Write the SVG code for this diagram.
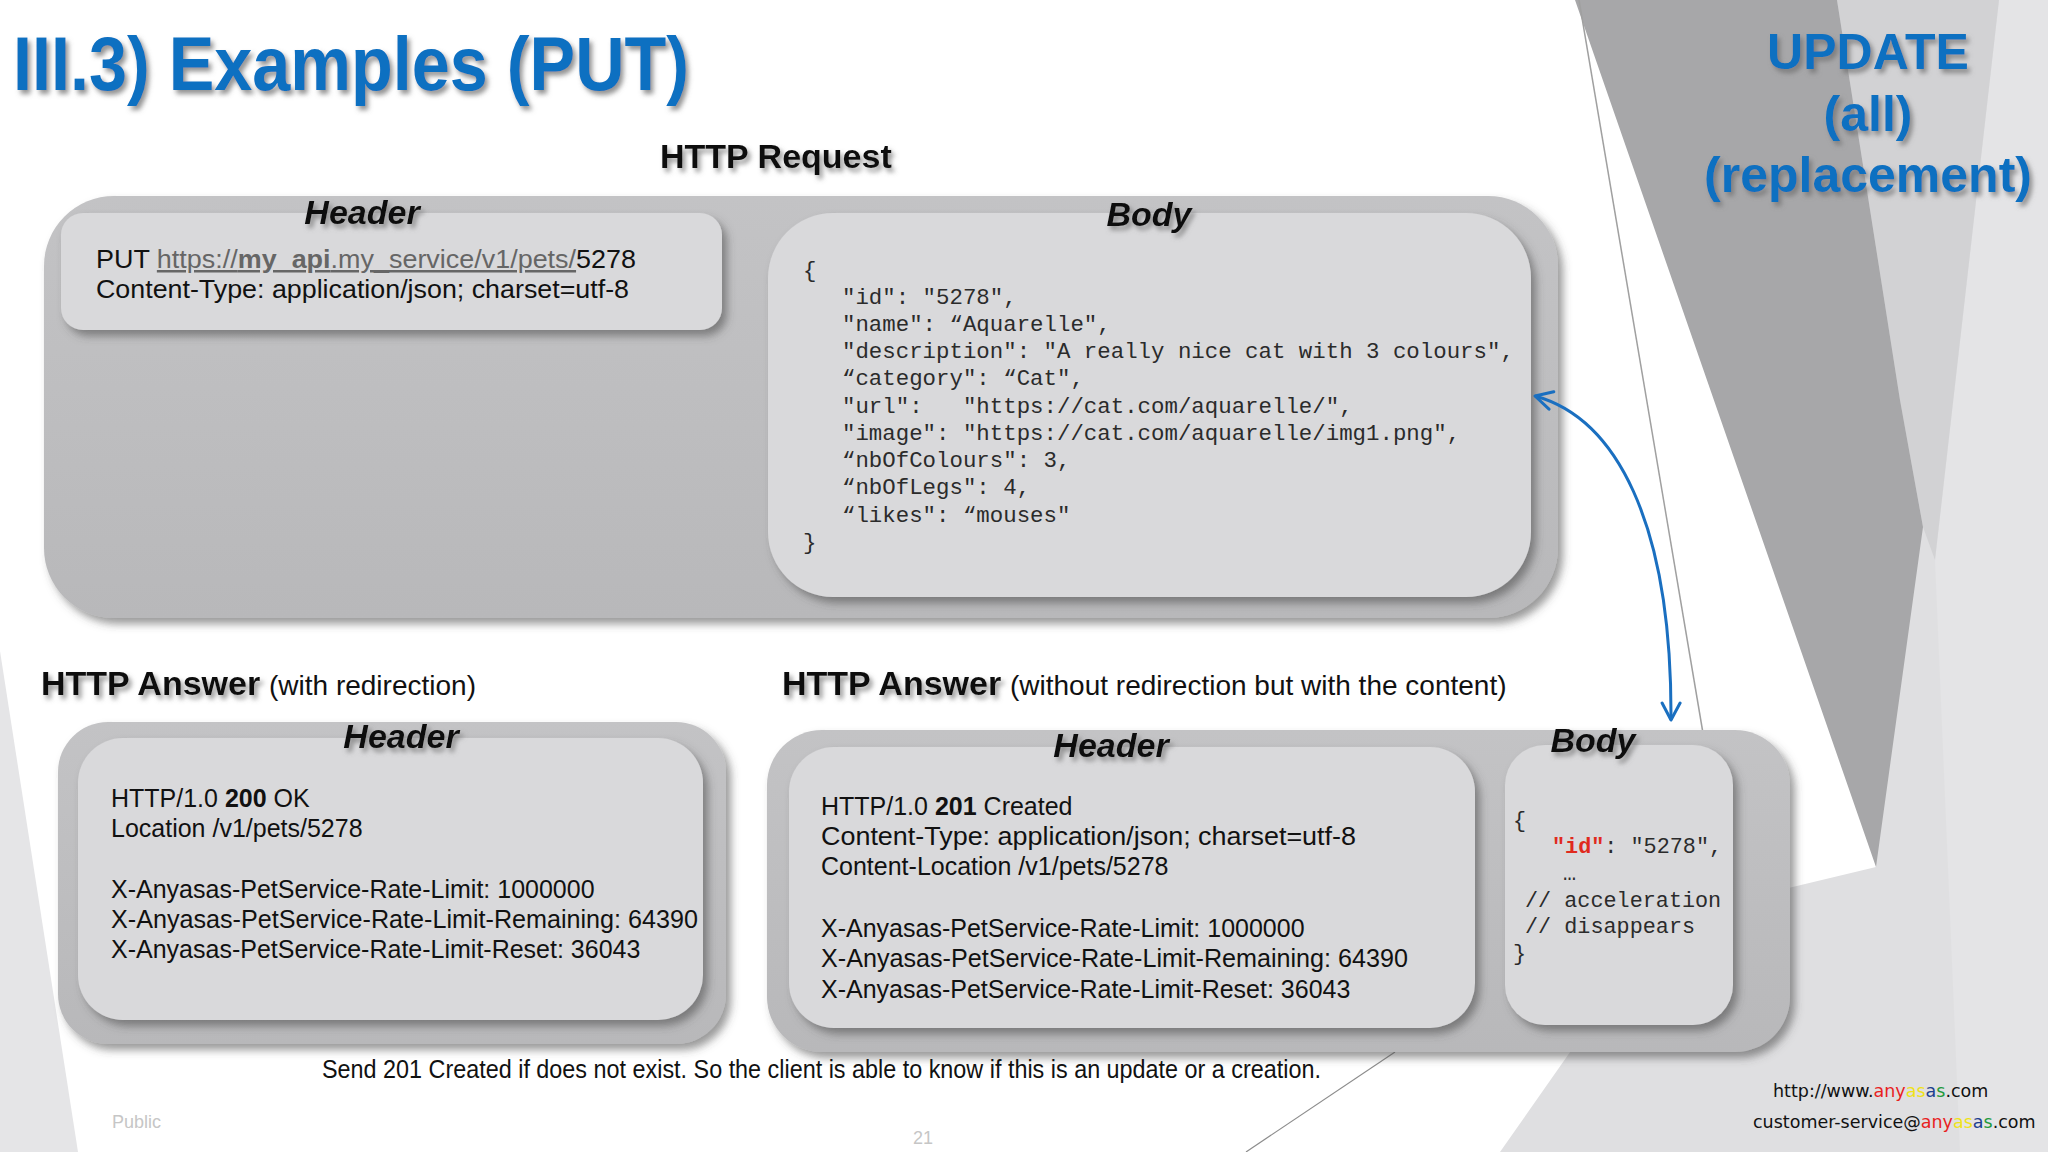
<svg xmlns="http://www.w3.org/2000/svg" width="2048" height="1152" viewBox="0 0 2048 1152">
<defs>
  <filter id="tshadow" x="-10%" y="-30%" width="130%" height="180%">
    <feDropShadow dx="3" dy="4" stdDeviation="2.5" flood-color="#6e6e6e" flood-opacity="0.75"/>
  </filter>
  <filter id="bshadow" x="-5%" y="-5%" width="115%" height="125%">
    <feDropShadow dx="5" dy="6" stdDeviation="4" flood-color="#4a4a4a" flood-opacity="0.55"/>
  </filter>
  <marker id="chev" viewBox="0 0 22 22" refX="19" refY="11" markerWidth="22" markerHeight="22" markerUnits="userSpaceOnUse" orient="auto-start-reverse">
    <path d="M2,2 L19,11 L2,20" fill="none" stroke="#1a6fc0" stroke-width="3" stroke-linecap="round" stroke-linejoin="round"/>
  </marker>
  <linearGradient id="outerG" x1="0" y1="0" x2="0" y2="1">
    <stop offset="0" stop-color="#c3c3c5"/>
    <stop offset="1" stop-color="#b8b8ba"/>
  </linearGradient>
</defs>
<style>
  .title{font-family:"Liberation Sans",Arial,sans-serif;font-weight:bold;fill:#0b6fc1}
  .h{font-family:"Liberation Sans",Arial,sans-serif;font-weight:bold;font-size:34px;fill:#111}
  .sub{font-family:"Liberation Sans",Arial,sans-serif;font-weight:normal;font-size:28px;fill:#111}
  .lbl{font-family:"Liberation Sans",Arial,sans-serif;font-weight:bold;font-style:italic;font-size:34px;fill:#111;text-anchor:middle}
  .hdr{font-family:"Liberation Sans",Arial,sans-serif;font-size:25px;fill:#111}
  .mono{font-family:"Liberation Mono","Courier New",monospace;font-size:22.4px;fill:#2b2b2b}
  .mono2{font-family:"Liberation Mono","Courier New",monospace;font-size:21.8px;fill:#2b2b2b}
  .outer{fill:url(#outerG)}
  .inner{fill:#d9d9db}
  .foot{font-family:"Liberation Sans",Arial,sans-serif;font-size:18px;fill:#c6c6c6}
  .contact{font-family:"DejaVu Sans",Verdana,sans-serif;font-size:17.5px;fill:#111}
</style>

<!-- background -->
<g id="background">
  <rect x="0" y="0" width="2048" height="1152" fill="#ffffff"/>
  <polygon points="0,651 78,1152 0,1152" fill="#e5e5e7"/>
  <polygon points="1837,0 2048,0 2048,1152 1500,1152 1664,918 1876,867" fill="#dfdfe1"/>
  <polygon points="1999,0 2048,0 2048,1152 1960,1152 1935,560" fill="#e4e4e6"/>
  <polygon points="1837,0 1999,0 1935,560 1923,527 1900,400" fill="#d2d2d4"/>
  <polygon points="1575,0 1837,0 1900,400 1923,527 1876,867" fill="#a7a7a9"/>
  <line x1="1579" y1="0" x2="1705" y2="745" stroke="#a0a0a0" stroke-width="1.5"/>
  <line x1="1246" y1="1152" x2="1395" y2="1052" stroke="#8c8c8c" stroke-width="1.2"/>
</g>

<!-- titles -->
<g id="title">
  <text class="title" x="13" y="90" font-size="76" textLength="676" lengthAdjust="spacingAndGlyphs" filter="url(#tshadow)">III.3) Examples (PUT)</text>
</g>
<g id="update-label" filter="url(#tshadow)">
  <text class="title" x="1868" y="69" font-size="50" text-anchor="middle">UPDATE</text>
  <text class="title" x="1868" y="131" font-size="50" text-anchor="middle">(all)</text>
  <text class="title" x="1868" y="192" font-size="50" text-anchor="middle">(replacement)</text>
</g>

<!-- HTTP Request -->
<g id="http-request">
  <text class="h" x="660" y="168" filter="url(#tshadow)">HTTP Request</text>
  <rect class="outer" x="44" y="196" width="1514" height="422" rx="70" filter="url(#bshadow)"/>
</g>
<g id="request-header">
  <rect class="inner" x="61" y="213" width="661" height="117" rx="22" filter="url(#bshadow)"/>
  <text class="lbl" x="362" y="224" filter="url(#tshadow)">Header</text>
  <text class="hdr" x="96" y="268" textLength="540" lengthAdjust="spacingAndGlyphs">PUT <tspan fill="#666666" text-decoration="underline">https://<tspan font-weight="bold">my_api</tspan>.my_service/v1/pets/</tspan>5278</text>
  <text class="hdr" x="96" y="298" textLength="533" lengthAdjust="spacingAndGlyphs">Content-Type: application/json; charset=utf-8</text>
</g>
<g id="request-body">
  <rect class="inner" x="768" y="213" width="763" height="384" rx="65" filter="url(#bshadow)"/>
  <text class="lbl" x="1149" y="226" filter="url(#tshadow)">Body</text>
  <text class="mono" x="803" y="277">{</text>
  <text class="mono" x="842" y="304">"id": "5278",</text>
  <text class="mono" x="842" y="331">"name": “Aquarelle",</text>
  <text class="mono" x="842" y="358">"description": "A really nice cat with 3 colours",</text>
  <text class="mono" x="842" y="385">“category": “Cat",</text>
  <text class="mono" x="842" y="413" xml:space="preserve">"url":   "https://cat.com/aquarelle/",</text>
  <text class="mono" x="842" y="440">"image": "https://cat.com/aquarelle/img1.png",</text>
  <text class="mono" x="842" y="467">“nbOfColours": 3,</text>
  <text class="mono" x="842" y="494">“nbOfLegs": 4,</text>
  <text class="mono" x="842" y="522">“likes": “mouses"</text>
  <text class="mono" x="803" y="549">}</text>
</g>

<!-- HTTP Answer with redirection -->
<g id="answer-redirect">
  <text class="h" x="41" y="695" filter="url(#tshadow)">HTTP Answer</text>
  <text class="sub" x="269" y="695">(with redirection)</text>
  <rect class="outer" x="58" y="722" width="668" height="322" rx="50" filter="url(#bshadow)"/>
  <rect class="inner" x="78" y="738" width="625" height="282" rx="45" filter="url(#bshadow)"/>
  <text class="lbl" x="401" y="748" filter="url(#tshadow)">Header</text>
  <text class="hdr" x="111" y="807">HTTP/1.0 <tspan font-weight="bold">200</tspan> OK</text>
  <text class="hdr" x="111" y="837">Location /v1/pets/5278</text>
  <text class="hdr" x="111" y="898">X-Anyasas-PetService-Rate-Limit: 1000000</text>
  <text class="hdr" x="111" y="928" textLength="587" lengthAdjust="spacingAndGlyphs">X-Anyasas-PetService-Rate-Limit-Remaining: 64390</text>
  <text class="hdr" x="111" y="958">X-Anyasas-PetService-Rate-Limit-Reset: 36043</text>
</g>

<!-- HTTP Answer without redirection -->
<g id="answer-content">
  <text class="h" x="782" y="695" filter="url(#tshadow)">HTTP Answer</text>
  <text class="sub" x="1010" y="695">(without redirection but with the content)</text>
  <rect class="outer" x="767" y="730" width="1023" height="322" rx="55" filter="url(#bshadow)"/>
</g>
<g id="answer-header">
  <rect class="inner" x="789" y="747" width="686" height="281" rx="45" filter="url(#bshadow)"/>
  <text class="lbl" x="1111" y="757" filter="url(#tshadow)">Header</text>
  <text class="hdr" x="821" y="815">HTTP/1.0 <tspan font-weight="bold">201</tspan> Created</text>
  <text class="hdr" x="821" y="845" textLength="535" lengthAdjust="spacingAndGlyphs">Content-Type: application/json; charset=utf-8</text>
  <text class="hdr" x="821" y="875">Content-Location /v1/pets/5278</text>
  <text class="hdr" x="821" y="937">X-Anyasas-PetService-Rate-Limit: 1000000</text>
  <text class="hdr" x="821" y="967" textLength="587" lengthAdjust="spacingAndGlyphs">X-Anyasas-PetService-Rate-Limit-Remaining: 64390</text>
  <text class="hdr" x="821" y="998">X-Anyasas-PetService-Rate-Limit-Reset: 36043</text>
</g>
<g id="answer-body">
  <rect class="inner" x="1505" y="745" width="228" height="280" rx="40" filter="url(#bshadow)"/>
  <text class="lbl" x="1593" y="752" filter="url(#tshadow)">Body</text>
  <text class="mono2" x="1513" y="827">{</text>
  <text class="mono2" x="1552" y="853"><tspan fill="#e02a1e" font-weight="bold">"id"</tspan>: "5278",</text>
  <text class="mono2" x="1563" y="880">…</text>
  <text class="mono2" x="1525" y="907">// acceleration</text>
  <text class="mono2" x="1525" y="933">// disappears</text>
  <text class="mono2" x="1513" y="960">}</text>
</g>

<!-- connector -->
<g id="connectors">
  <path d="M1535,396 C1615,418 1672,520 1671,720" fill="none" stroke="#1a6fc0" stroke-width="3" marker-start="url(#chev)" marker-end="url(#chev)"/>
</g>

<!-- footer -->
<g id="footer">
  <text class="hdr" x="322" y="1078" font-size="22" textLength="999" lengthAdjust="spacingAndGlyphs">Send 201 Created if does not exist. So the client is able to know if this is an update or a creation.</text>
  <text class="foot" x="112" y="1128">Public</text>
  <text class="foot" x="913" y="1144" font-size="17">21</text>
  <text class="contact" x="1773" y="1097">http://www.<tspan fill="#e8221f">any</tspan><tspan fill="#efe21a">as</tspan><tspan fill="#1d3f8f">a</tspan><tspan fill="#1f9a3c">s</tspan>.com</text>
  <text class="contact" x="1753" y="1128">customer-service@<tspan fill="#e8221f">any</tspan><tspan fill="#efe21a">as</tspan><tspan fill="#1d3f8f">a</tspan><tspan fill="#1f9a3c">s</tspan>.com</text>
</g>
</svg>
